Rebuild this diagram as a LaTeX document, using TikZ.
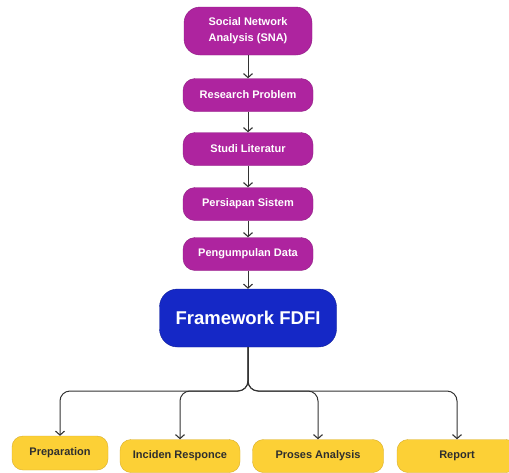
\documentclass[tikz,border=0pt]{standalone}
\usepackage{fontspec}
\setmainfont{Liberation Sans}
\usetikzlibrary{arrows.meta}
\definecolor{snapurple}{HTML}{AE249F}
\definecolor{snaborder}{HTML}{8F1C83}
\definecolor{fdfiblue}{HTML}{1528C6}
\definecolor{fdfiborder}{HTML}{0F1E9A}
\definecolor{stepyellow}{HTML}{FCD036}
\definecolor{yellowborder}{HTML}{D9AE2A}
\definecolor{darktext}{HTML}{2E2E2E}
\begin{document}
\begin{tikzpicture}[x=1pt,y=-1pt,
  purplebox/.style={draw=snaborder,fill=snapurple,text=white,rounded corners=12pt,
    minimum width=130pt,minimum height=33pt,font=\fontsize{11}{16}\bfseries,align=center,inner sep=2pt},
  bluebox/.style={draw=fdfiborder,fill=fdfiblue,text=white,rounded corners=18pt,
    minimum width=177pt,minimum height=58pt,font=\fontsize{18.5}{22}\bfseries},
  yellowbox/.style={draw=yellowborder,fill=stepyellow,text=darktext,rounded corners=11pt,
    minimum height=33pt,font=\fontsize{11}{13}\bfseries},
  flow/.style={draw=black!80,line width=1pt,-{Straight Barb[length=4pt,width=9pt,line width=1.1pt]}}]
  \useasboundingbox[clip] (0,0) rectangle (509,472);
  \fill[white] (0,0) rectangle (509,472);
  % upper chain
  \node[purplebox,minimum width=128pt,minimum height=48pt,rounded corners=16pt] (sna) at (248,31)
    {Social Network\\Analysis (SNA)};
  \node[purplebox] (problem) at (248,95) {Research Problem};
  \node[purplebox] (literatur) at (248,149) {Studi Literatur};
  \node[purplebox] (sistem) at (248,204) {Persiapan Sistem};
  \node[purplebox] (data) at (248,254) {Pengumpulan Data};
  \node[bluebox] (fdfi) at (248,318) {Framework FDFI};
  % lower row
  \node[yellowbox,minimum width=96pt,minimum height=34pt] (prep) at (60,453) {Preparation};
  \node[yellowbox,minimum width=120pt] (incid) at (180,456) {Inciden Responce};
  \node[yellowbox,minimum width=131pt] (proses) at (318,456) {Proses Analysis};
  \node[yellowbox,minimum width=120pt] (report) at (457,456) {Report};
  \coordinate (branch) at (248,391);
  \foreach \a/\b in {sna/problem,problem/literatur,literatur/sistem,sistem/data,data/fdfi}
    \draw[flow] (\a) -- (\b);
  \foreach \b in {prep,incid,proses,report}
    \draw[flow,rounded corners=10pt] (fdfi.south) -- (branch) -| (\b.north);
\end{tikzpicture}
\end{document}
